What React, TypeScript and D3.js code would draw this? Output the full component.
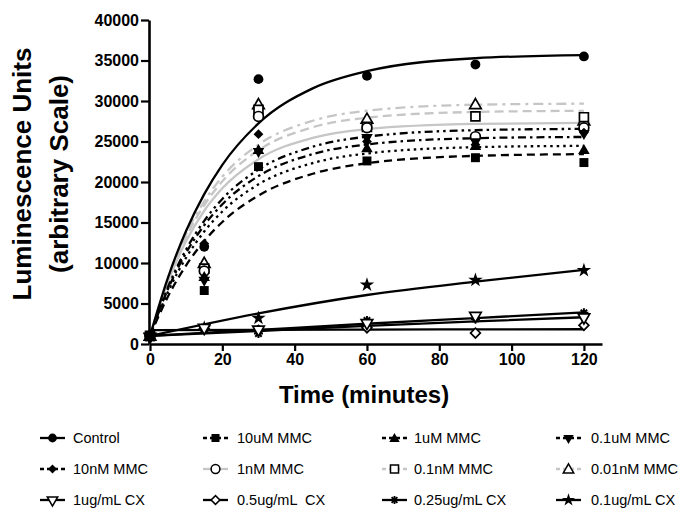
import { useEffect, useRef } from "react";
import * as d3 from "d3";

// sampling times (minutes)
const times = [0, 15, 30, 60, 90, 120];

// measured points
const control = [1000, 12000, 32700, 33100, 34500, 35500];
const mmc10uM = [1000, 6600, 21900, 22600, 23000, 22400];
const mmc1uM = [1000, 8300, 24000, 24200, 24500, 24000];
const mmc01uM = [1000, 7900, 23800, 25500, 25000, 26000];
const mmc10nM = [1000, 12400, 25900, 25000, 24600, 26100];
const mmc1nM = [1000, 9000, 28100, 26700, 25600, 26700];
const mmc01nM = [1000, 9300, 28900, 26800, 28100, 28000];
const mmc001nM = [1000, 10000, 29600, 27800, 29600, 27600];
const cx1 = [900, 2000, 1800, 2600, 3500, 3300];
const cx05 = [1000, 1900, 1700, 2000, 1350, 2300];
const cx025 = [1000, 1900, 1300, 2900, 3100, 3850];
const cx01 = [1000, 2000, 3200, 7300, 7900, 9100];

// fitted curves
const fitTimes = [0, 5, 10, 15, 20, 30, 45, 60, 90, 120];
const controlFit = [1000, 8240, 13980, 18500, 22120, 27240, 31560, 33680, 35280, 35670];
const mmc10uMFit = [1000, 5890, 9720, 12710, 15060, 18330, 21020, 22310, 23230, 23440];
const mmc1uMFit = [1000, 6470, 10670, 13890, 16360, 19710, 22340, 23520, 24300, 24460];
const mmc01uMFit = [1000, 6820, 11270, 14660, 17250, 20730, 23440, 24640, 25410, 25560];
const mmc10nMFit = [1000, 7060, 11680, 15210, 17910, 21530, 24350, 25600, 26400, 26560];
const mmc1nMFit = [1000, 7720, 12720, 16450, 19220, 22820, 25450, 26540, 27170, 27290];
const mmc01nMFit = [1000, 8000, 13230, 17150, 20080, 23920, 26760, 27940, 28650, 28790];
const mmc001nMFit = [1000, 8190, 13580, 17620, 20650, 24620, 27560, 28800, 29540, 29670];
const lowFitTimes = [0, 30, 60, 90, 120];
const cx1Fit = [1000, 1600, 2250, 2800, 3300];
const cx05Fit = [1700, 1750, 1780, 1800, 1820];
const cx025Fit = [1000, 1750, 2500, 3200, 3900];
const cx01Fit = [1000, 3780, 6050, 7700, 9150];

const xTicks = [0, 20, 40, 60, 80, 100, 120];
const yTicks = [0, 5000, 10000, 15000, 20000, 25000, 30000, 35000, 40000];

const GRAY = "#c6c6c6";
const FONT = "'Liberation Sans', Arial, Helvetica, sans-serif";

const series = [
  { name: "Control", values: control, fit: controlFit, ft: fitTimes, color: "#000", dash: null, symbol: "circle", open: false },
  { name: "10uM MMC", values: mmc10uM, fit: mmc10uMFit, ft: fitTimes, color: "#000", dash: "8,5", symbol: "square", open: false },
  { name: "1uM MMC", values: mmc1uM, fit: mmc1uMFit, ft: fitTimes, color: "#000", dash: "2.5,4", symbol: "triangle", open: false },
  { name: "0.1uM MMC", values: mmc01uM, fit: mmc01uMFit, ft: fitTimes, color: "#000", dash: "8,4,2.5,4", symbol: "triangleDown", open: false },
  { name: "10nM MMC", values: mmc10nM, fit: mmc10nMFit, ft: fitTimes, color: "#000", dash: "8,4,2.5,4,2.5,4", symbol: "diamond", open: false },
  { name: "1nM MMC", values: mmc1nM, fit: mmc1nMFit, ft: fitTimes, color: GRAY, dash: null, symbol: "circle", open: true },
  { name: "0.1nM MMC", values: mmc01nM, fit: mmc01nMFit, ft: fitTimes, color: GRAY, dash: "9,5", symbol: "square", open: true },
  { name: "0.01nM MMC", values: mmc001nM, fit: mmc001nMFit, ft: fitTimes, color: GRAY, dash: "10,5,3,5", symbol: "triangle", open: true },
  { name: "1ug/mL CX", values: cx1, fit: cx1Fit, ft: lowFitTimes, color: "#000", dash: null, symbol: "triangleDown", open: true },
  { name: "0.5ug/mL  CX", values: cx05, fit: cx05Fit, ft: lowFitTimes, color: "#000", dash: null, symbol: "diamond", open: true },
  { name: "0.25ug/mL CX", values: cx025, fit: cx025Fit, ft: lowFitTimes, color: "#000", dash: null, symbol: "asterisk", open: false },
  { name: "0.1ug/mL CX", values: cx01, fit: cx01Fit, ft: lowFitTimes, color: "#000", dash: null, symbol: "star", open: false },
];

function markerPath(kind: string) {
  if (kind === "circle") return d3.symbol().type(d3.symbolCircle).size(75)();
  if (kind === "square") return d3.symbol().type(d3.symbolSquare).size(80)();
  if (kind === "triangle" || kind === "triangleDown") return d3.symbol().type(d3.symbolTriangle).size(58)();
  if (kind === "diamond") return d3.symbol().type(d3.symbolSquare).size(48)();
  if (kind === "star") return d3.symbol().type(d3.symbolStar).size(65)();
  return "M-4.5,0H4.5M0,-4.5V4.5M-3.2,-3.2L3.2,3.2M-3.2,3.2L3.2,-3.2";
}

function markerTransform(kind: string) {
  if (kind === "triangleDown") return "rotate(180)";
  if (kind === "diamond") return "rotate(45)";
  if (kind === "triangle") return "translate(0,1)";
  return "";
}

function drawMarker(g: any, kind: string, open: boolean) {
  const p = g.append("path")
    .attr("d", markerPath(kind))
    .attr("transform", markerTransform(kind));
  if (kind === "asterisk") {
    p.attr("fill", "none").attr("stroke", "#000").attr("stroke-width", 2);
  } else if (open) {
    p.attr("fill", "#fff").attr("stroke", "#000").attr("stroke-width", 1.7);
  } else {
    p.attr("fill", "#000");
  }
}

export default function App() {
  const ref = useRef<SVGSVGElement>(null);
  const width = 681;
  const height = 512;

  useEffect(() => {
    const svg = d3.select(ref.current);
    svg.selectAll("*").remove();

    const x = d3.scaleLinear().domain([0, 125]).range([150, 602]);
    const y = d3.scaleLinear().domain([0, 40000]).range([344, 20]);

    // axes
    const yAxis = svg.append("g")
      .attr("transform", "translate(149,0)")
      .call(d3.axisLeft(y).tickValues(yTicks).tickSize(8).tickSizeOuter(0).tickPadding(2).tickFormat((d: any) => String(d)));
    const xAxis = svg.append("g")
      .attr("transform", "translate(0,344)")
      .call(d3.axisBottom(x).tickValues(xTicks).tickSize(7).tickSizeOuter(0).tickPadding(3));

    [yAxis, xAxis].forEach(ax => {
      ax.select(".domain").attr("stroke-width", 2.6);
      ax.selectAll(".tick line").attr("stroke-width", 2.2);
      ax.selectAll(".tick text")
        .attr("font-family", FONT)
        .attr("font-size", 16)
        .attr("font-weight", "bold")
        .attr("fill", "#000");
    });

    // axis titles
    svg.append("text")
      .attr("x", 364).attr("y", 403)
      .attr("text-anchor", "middle")
      .attr("font-family", FONT).attr("font-size", 24).attr("font-weight", "bold")
      .text("Time (minutes)");

    const yt = svg.append("text")
      .attr("transform", "translate(0,174) rotate(-90)")
      .attr("text-anchor", "middle")
      .attr("font-family", FONT).attr("font-size", 26).attr("font-weight", "bold");
    yt.append("tspan").attr("x", 0).attr("y", 31).text("Luminescence Units");
    yt.append("tspan").attr("x", 0).attr("y", 68).text("(arbitrary Scale)");

    // fitted curves
    const line = d3.line<[number, number]>()
      .x(d => x(d[0]))
      .y(d => y(d[1]))
      .curve(d3.curveMonotoneX);

    const curveLayer = svg.append("g");
    series.slice().reverse().forEach(s => {
      const pts: [number, number][] = s.ft.map((t, i) => [t, s.fit[i]]);
      curveLayer.append("path")
        .attr("d", line(pts))
        .attr("fill", "none")
        .attr("stroke", s.color)
        .attr("stroke-width", 2.3)
        .attr("stroke-dasharray", s.dash);
    });

    // points
    const pointLayer = svg.append("g");
    series.slice().reverse().forEach(s => {
      s.values.forEach((v, i) => {
        const g = pointLayer.append("g").attr("transform", `translate(${x(times[i])},${y(v)})`);
        drawMarker(g, s.symbol, s.open);
      });
    });

    // legend
    const lineStart = [40, 203, 382, 556];
    const textX = [73, 237, 414, 591];
    const rowY = [438, 469, 500];
    const legend = svg.append("g");
    series.forEach((s, i) => {
      const col = i % 4;
      const row = Math.floor(i / 4);
      const cy = rowY[row];
      legend.append("line")
        .attr("x1", lineStart[col]).attr("x2", lineStart[col] + 25)
        .attr("y1", cy).attr("y2", cy)
        .attr("stroke", s.color)
        .attr("stroke-width", 2.3)
        .attr("stroke-dasharray", s.dash ? "4,3" : null);
      const g = legend.append("g").attr("transform", `translate(${lineStart[col] + 12.5},${cy}) scale(0.9)`);
      drawMarker(g, s.symbol, s.open);
      legend.append("text")
        .attr("x", textX[col]).attr("y", cy)
        .attr("dy", "0.36em")
        .attr("font-family", FONT).attr("font-size", 14.5)
        .style("white-space", "pre")
        .text(s.name);
    });
  }, []);

  return (
    <svg
      ref={ref}
      width={width}
      height={height}
      style={{ position: "absolute", left: 0, top: 0, background: "#fff" }}
    />
  );
}
